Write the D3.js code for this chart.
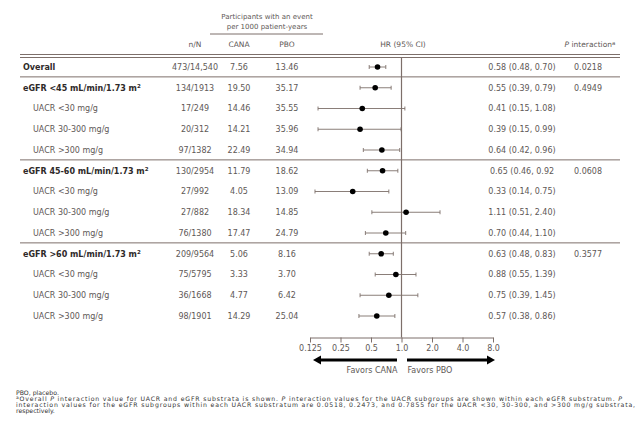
<!DOCTYPE html>
<html><head><meta charset="utf-8">
<script src="https://cdn.jsdelivr.net/npm/d3@7"></script>
<style>
body{margin:0;background:#fff;}
svg{display:block;font-family:"DejaVu Sans",Verdana,sans-serif;}
</style></head>
<body><svg id="c" width="642" height="424"></svg>
<script>
const labels = ["Overall","eGFR <45 mL/min/1.73 m²","UACR <30 mg/g","UACR 30-300 mg/g","UACR >300 mg/g",
  "eGFR 45-60 mL/min/1.73 m²","UACR <30 mg/g","UACR 30-300 mg/g","UACR >300 mg/g",
  "eGFR >60 mL/min/1.73 m²","UACR <30 mg/g","UACR 30-300 mg/g","UACR >300 mg/g"];
const isGroup = [true,true,false,false,false,true,false,false,false,true,false,false,false];
const nN = ["473/14,540","134/1913","17/249","20/312","97/1382","130/2954","27/992","27/882","76/1380","209/9564","75/5795","36/1668","98/1901"];
const cana = ["7.56","19.50","14.46","14.21","22.49","11.79","4.05","18.34","17.47","5.06","3.33","4.77","14.29"];
const pbo = ["13.46","35.17","35.55","35.96","34.94","18.62","13.09","14.85","24.79","8.16","3.70","6.42","25.04"];
const hr = [0.58,0.55,0.41,0.39,0.64,0.65,0.33,1.11,0.70,0.63,0.88,0.75,0.57];
const lo = [0.48,0.39,0.15,0.15,0.42,0.46,0.14,0.51,0.44,0.48,0.55,0.39,0.38];
const hi = [0.70,0.79,1.08,0.99,0.96,0.92,0.75,2.40,1.10,0.83,1.39,1.45,0.86];
const hrText = ["0.58 (0.48, 0.70)","0.55 (0.39, 0.79)","0.41 (0.15, 1.08)","0.39 (0.15, 0.99)","0.64 (0.42, 0.96)",
  "0.65 (0.46, 0.92","0.33 (0.14, 0.75)","1.11 (0.51, 2.40)","0.70 (0.44, 1.10)",
  "0.63 (0.48, 0.83)","0.88 (0.55, 1.39)","0.75 (0.39, 1.45)","0.57 (0.38, 0.86)"];
const pInt = ["0.0218","0.4949","","","","0.0608","","","","0.3577","","",""];
const tickVals = [0.125,0.25,0.5,1,2,4,8];
const tickLabels = ["0.125","0.25","0.5","1.0","2.0","4.0","8.0"];

const svg = d3.select("#c");
const lineCol = "#7d6f6a", textCol = "#5e5856", boldCol = "#2e2a29";
const x = d3.scaleLog().base(2).domain([0.125,8]).range([310,493]);
const idx = d3.range(labels.length);
const y = d3.scalePoint().domain(idx).range([67,316]);
const step = y.step();
const colX = {nN:195, cana:239, pbo:287, hr:522, p:588};

// header
const hdr = svg.append("g").attr("font-size",7).attr("fill",textCol).attr("text-anchor","middle");
hdr.append("text").attr("x",267).attr("y",19).text("Participants with an event");
hdr.append("text").attr("x",267).attr("y",29).text("per 1000 patient-years");
svg.append("line").attr("x1",210).attr("x2",323).attr("y1",34).attr("y2",34).attr("stroke",lineCol).attr("stroke-width",1);
const h2 = svg.append("g").attr("font-size",7.5).attr("fill",textCol).attr("text-anchor","middle");
h2.append("text").attr("x",colX.nN).attr("y",47).text("n/N");
h2.append("text").attr("x",colX.cana).attr("y",47).text("CANA");
h2.append("text").attr("x",colX.pbo).attr("y",47).text("PBO");
h2.append("text").attr("x",403).attr("y",47).text("HR (95% CI)");
const pt = h2.append("text").attr("x",590).attr("y",47);
pt.append("tspan").attr("font-style","italic").text("P");
pt.append("tspan").text(" interaction");
pt.append("tspan").attr("dy",-2).attr("font-size",5.5).text("a");

// header rules
[54.5,57.5].forEach(yy=>svg.append("line").attr("x1",20).attr("x2",620).attr("y1",yy).attr("y2",yy).attr("stroke",lineCol).attr("stroke-width",1));
// group separators
[0,4,8].forEach(i=>{
  const yy = y(i)+step/2-0.5;
  svg.append("line").attr("x1",20).attr("x2",620).attr("y1",yy).attr("y2",yy).attr("stroke",lineCol).attr("stroke-width",1);
});

// reference line
svg.append("line").attr("x1",x(1)).attr("x2",x(1)).attr("y1",57.5).attr("y2",337.5).attr("stroke",lineCol).attr("stroke-width",1.2);

// rows
const rows = svg.append("g").selectAll("g").data(idx).join("g").attr("transform",i=>`translate(0,${y(i)})`);
rows.append("text").attr("x",i=>isGroup[i]?23:33).attr("dy","0.35em")
  .attr("font-size",8).attr("font-weight",i=>isGroup[i]?"bold":"normal")
  .attr("fill",i=>isGroup[i]?boldCol:textCol)
  .each(function(i){
    const t = d3.select(this), s = labels[i];
    if (s.endsWith("m²")) {
      t.append("tspan").text(s.slice(0,-1));
      t.append("tspan").attr("dy",-3).attr("font-size",5.5).text("2");
    } else t.text(s);
  });
const num = (key,arr)=>rows.append("text").attr("x",colX[key]).attr("dy","0.35em").attr("text-anchor","middle")
  .attr("font-size",8).attr("fill",textCol).text(i=>arr[i]);
num("nN",nN); num("cana",cana); num("pbo",pbo); num("hr",hrText); num("p",pInt);

// CI
rows.append("line").attr("x1",i=>x(lo[i])).attr("x2",i=>x(hi[i])).attr("stroke",lineCol).attr("stroke-width",0.9);
rows.append("line").attr("x1",i=>x(lo[i])).attr("x2",i=>x(lo[i])).attr("y1",-2).attr("y2",2).attr("stroke",lineCol).attr("stroke-width",0.9);
rows.append("line").attr("x1",i=>x(hi[i])).attr("x2",i=>x(hi[i])).attr("y1",-2).attr("y2",2).attr("stroke",lineCol).attr("stroke-width",0.9);
rows.append("circle").attr("cx",i=>x(hr[i])).attr("r",2.8).attr("fill","#000");

// axis
const ax = svg.append("g").attr("transform","translate(0,337.5)")
  .call(d3.axisBottom(x).tickValues(tickVals).tickFormat((d,i)=>tickLabels[i]).tickSizeInner(5).tickSizeOuter(0).tickPadding(3));
ax.select(".domain").attr("stroke",lineCol);
ax.selectAll(".tick line").attr("stroke",lineCol);
ax.selectAll("text").attr("font-family","DejaVu Sans").attr("font-size",8).attr("fill",textCol);

// arrows
function arrow(x0,x1,yy){
  const dir = Math.sign(x1-x0), hl = 8, hw = 4.5;
  svg.append("line").attr("x1",x0).attr("x2",x1-dir*hl+dir).attr("y1",yy).attr("y2",yy).attr("stroke","#000").attr("stroke-width",3.2);
  svg.append("path").attr("d",`M${x1},${yy}L${x1-dir*hl},${yy-hw}L${x1-dir*hl},${yy+hw}Z`).attr("fill","#000");
}
arrow(x(1)-4.5,x(0.125)+3,360);
arrow(x(1)+5.5,x(8)+2,360);
svg.append("text").attr("x",x(1)-4).attr("y",373).attr("text-anchor","end").attr("font-size",8).attr("fill",textCol).text("Favors CANA");
svg.append("text").attr("x",x(1)+6).attr("y",373).attr("font-size",8).attr("fill",textCol).text("Favors PBO");

// footnotes
const fn = svg.append("g").attr("font-size",6.2).attr("fill","#333");
fn.append("text").attr("x",16).attr("y",394.5).text("PBO, placebo.");
const f2 = fn.append("text").attr("x",16).attr("y",400.8).attr("textLength",606).attr("lengthAdjust","spacing");
f2.append("tspan").attr("dy",-1.5).attr("font-size",4.5).text("a");
f2.append("tspan").attr("dy",1.5).text("Overall ");
f2.append("tspan").attr("font-style","italic").text("P");
f2.append("tspan").text(" interaction value for UACR and eGFR substrata is shown. ");
f2.append("tspan").attr("font-style","italic").text("P");
f2.append("tspan").text(" interaction values for the UACR subgroups are shown within each eGFR substratum. ");
f2.append("tspan").attr("font-style","italic").text("P");
fn.append("text").attr("x",16).attr("y",407.1).attr("textLength",619).attr("lengthAdjust","spacing")
  .text("interaction values for the eGFR subgroups within each UACR substratum are 0.0518, 0.2473, and 0.7855 for the UACR <30, 30-300, and >300 mg/g substrata,");
fn.append("text").attr("x",16).attr("y",413.4).text("respectively.");
</script></body></html>
